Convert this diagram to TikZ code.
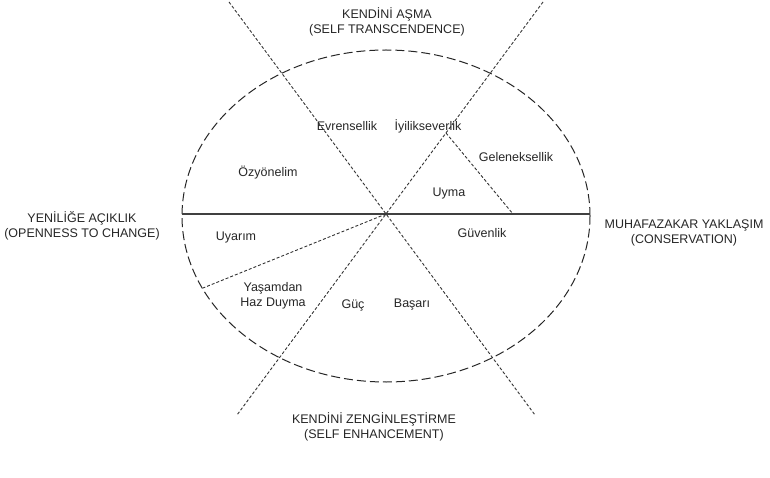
\documentclass[tikz,border=0pt]{standalone}
\usepackage{fontspec}
\setmainfont{Liberation Sans}
\begin{document}
\begin{tikzpicture}[x=1pt,y=-1pt,
  lbl/.style={font=\fontsize{12.5}{14.5}\selectfont, inner sep=0pt, align=center, text=black!85},
  axisline/.style={draw=black!75, line width=2pt},
  bound/.style={draw=black!80, line width=0.9pt, dash pattern=on 3pt off 2pt},
  oval/.style={draw=black!85, line width=1pt, dash pattern=on 9pt off 4pt}]
\useasboundingbox (0,0) rectangle (770,478);
\coordinate (c) at (386,214);
\coordinate (hl) at (182,214);
\coordinate (hr) at (590,214);
\coordinate (t1) at (229,2);
\coordinate (b1) at (535,415);
\coordinate (t2) at (543,2);
\coordinate (b2) at (237,415);
\coordinate (br1) at (446,133);
\coordinate (br2) at (513,214);
\coordinate (y1) at (203,288);
% ellipse
\draw[oval] (386,216) ellipse [x radius=204pt, y radius=166pt];
% axes
\draw[axisline] (hl) -- (hr);
\draw[bound] (t1) -- (b1);
\draw[bound] (t2) -- (b2);
\draw[bound] (br1) -- (br2);
\draw[bound] (c) -- (y1);
% outer labels
\node[lbl] (top) at (387,22) {KENDİNİ AŞMA\\(SELF TRANSCENDENCE)};
\node[lbl] (left) at (82,226) {YENİLİĞE AÇIKLIK\\(OPENNESS TO CHANGE)};
\node[lbl] (right) at (684,233) {MUHAFAZAKAR YAKLAŞIM\\(CONSERVATION)};
\node[lbl] (bottom) at (374,427) {KENDİNİ ZENGİNLEŞTİRME\\(SELF ENHANCEMENT)};
% inner labels
\node[lbl] (evr) at (347,126) {Evrensellik};
\node[lbl] (iyi) at (428,126) {İyilikseverlik};
\node[lbl] (gel) at (516,157) {Geleneksellik};
\node[lbl] (uym) at (449,193) {Uyma};
\node[lbl] (guv) at (482,233) {Güvenlik};
\node[lbl] (ozy) at (268,173) {Özyönelim};
\node[lbl] (uya) at (236,237) {Uyarım};
\node[lbl] (yas) at (273,296) {Yaşamdan\\Haz Duyma};
\node[lbl] (guc) at (353,305) {Güç};
\node[lbl] (bas) at (412,305) {Başarı};
\end{tikzpicture}
\end{document}
